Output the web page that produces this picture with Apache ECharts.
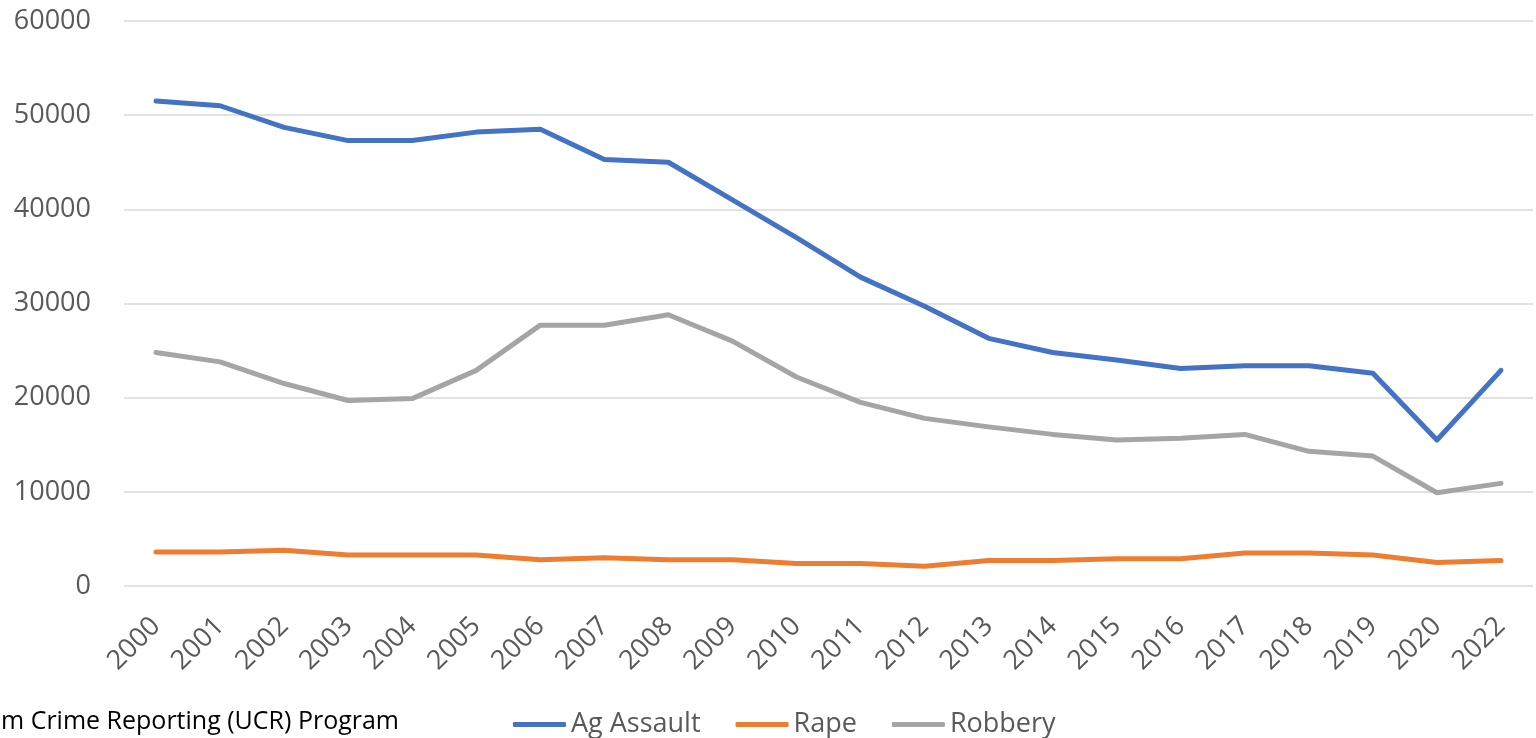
<!DOCTYPE html>
<html>
<head>
<meta charset="utf-8">
<script src="https://cdn.jsdelivr.net/npm/echarts@6/dist/echarts.min.js"></script>
<style>
  html, body { margin: 0; padding: 0; background: #fff; }
  #chart { width: 1536px; height: 738px; }
</style>
</head>
<body>
<div id="chart"></div>
<script>
// Violent offenses by year
const years = ['2000','2001','2002','2003','2004','2005','2006','2007','2008','2009','2010',
               '2011','2012','2013','2014','2015','2016','2017','2018','2019','2020','2022'];

const agAssault = [51500, 51000, 48700, 47300, 47300, 48200, 48500, 45300, 45000, 41000, 37000,
                   32800, 29700, 26300, 24800, 24000, 23100, 23400, 23400, 22600, 15500, 22900];

const rape = [3600, 3600, 3800, 3300, 3300, 3300, 2800, 3000, 2800, 2800, 2400,
              2400, 2100, 2700, 2700, 2900, 2900, 3500, 3500, 3300, 2500, 2700];

const robbery = [24800, 23800, 21500, 19700, 19900, 22900, 27700, 27700, 28800, 26000, 22200,
                 19500, 17800, 16900, 16100, 15500, 15700, 16100, 14300, 13800, 9900, 10900];

const yTicks = { min: 0, max: 60000, interval: 10000 };

const sourceNote = 'm Crime Reporting (UCR) Program';

const FONT = '"Open Sans", "Liberation Sans", sans-serif';
const TEXT_GRAY = '#595959';

const chart = echarts.init(document.getElementById('chart'), null, { renderer: 'canvas' });

function lineSeries(name, data, color) {
  return {
    name: name,
    type: 'line',
    data: data,
    symbol: 'none',
    smooth: false,
    lineStyle: { width: 5, color: color, cap: 'round', join: 'round' },
    itemStyle: { color: color },
    emphasis: { disabled: true }
  };
}

chart.setOption({
  animation: false,
  backgroundColor: '#ffffff',
  textStyle: { fontFamily: FONT },
  grid: { left: 124, right: 3, top: 21, bottom: 152, containLabel: false },
  xAxis: {
    type: 'category',
    data: years,
    boundaryGap: true,
    axisLine: { show: false },
    axisTick: { show: false },
    axisLabel: {
      rotate: 45,
      interval: 0,
      margin: 36,
      color: TEXT_GRAY,
      fontSize: 27,
      fontFamily: FONT
    },
    splitLine: { show: false }
  },
  yAxis: {
    type: 'value',
    min: yTicks.min,
    max: yTicks.max,
    interval: yTicks.interval,
    axisLine: { show: false },
    axisTick: { show: false },
    axisLabel: {
      margin: 33,
      color: TEXT_GRAY,
      fontSize: 27,
      fontFamily: FONT,
      formatter: function (v) { return String(v); }
    },
    splitLine: { show: true, lineStyle: { color: '#D9D9D9', width: 1.5 } }
  },
  legend: {
    left: 508,
    top: 706,
    itemWidth: 53,
    itemHeight: 5,
    itemGap: 35,
    icon: 'roundRect',
    textStyle: { color: TEXT_GRAY, fontSize: 27, fontFamily: FONT, padding: [0, 0, 0, 0] },
    data: ['Ag Assault', 'Rape', 'Robbery']
  },
  graphic: [{
    type: 'text',
    left: 1,
    top: 709,
    style: { text: sourceNote, fill: '#000000', font: '25px ' + FONT }
  }],
  series: [
    lineSeries('Ag Assault', agAssault, '#4472C4'),
    lineSeries('Rape', rape, '#ED7D31'),
    lineSeries('Robbery', robbery, '#A5A5A5')
  ]
});
</script>
</body>
</html>
